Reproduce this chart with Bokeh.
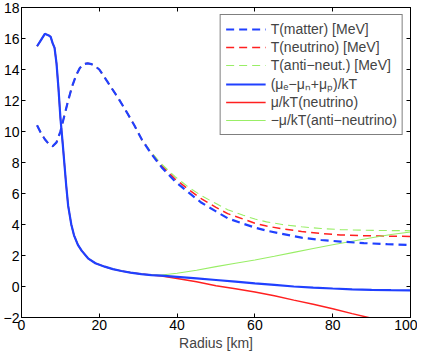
from bokeh.plotting import figure
from bokeh.models import LinearAxis, Legend, LegendItem, FixedTicker, Range1d
from bokeh.embed import file_html
from bokeh.resources import INLINE

# ---- data ----
r_tm = [4, 5, 6, 7, 7.5, 8, 9, 10, 11, 12, 13, 14, 15, 16, 17, 18, 19, 20, 22, 25, 27, 29, 31, 33.4, 36, 39.4, 43, 46.3, 50, 53, 57, 60, 63, 67, 72, 77, 82, 88, 94, 100]
t_matter = [10.4, 9.9, 9.5, 9.2, 9.1, 9.05, 9.3, 10.0, 11.0, 12.0, 12.9, 13.6, 14.1, 14.35, 14.4, 14.35, 14.2, 14.0, 13.25, 12.1, 11.27, 10.4, 9.45, 8.55, 7.7, 6.8, 6.05, 5.4, 4.85, 4.4, 4.05, 3.8, 3.6, 3.4, 3.15, 3.0, 2.9, 2.8, 2.73, 2.68]
t_nu = [10.4, 9.9, 9.5, 9.2, 9.1, 9.05, 9.3, 10.0, 11.0, 12.0, 12.9, 13.6, 14.1, 14.35, 14.4, 14.35, 14.2, 14.0, 13.25, 12.1, 11.27, 10.4, 9.45, 8.6, 7.8, 6.95, 6.25, 5.65, 5.1, 4.7, 4.35, 4.08, 3.9, 3.72, 3.55, 3.42, 3.33, 3.28, 3.25, 3.23]
t_anu = [10.4, 9.9, 9.5, 9.2, 9.1, 9.05, 9.3, 10.0, 11.0, 12.0, 12.9, 13.6, 14.1, 14.35, 14.4, 14.35, 14.2, 14.0, 13.25, 12.1, 11.27, 10.4, 9.45, 8.65, 7.9, 7.1, 6.4, 5.85, 5.35, 4.95, 4.6, 4.35, 4.17, 4.0, 3.85, 3.74, 3.67, 3.63, 3.61, 3.6]

r_mu = [4, 5, 6, 7, 7.5, 8, 8.5, 9, 9.5, 10, 10.6, 11, 11.5, 12, 12.8, 13.5, 14.5, 15.5, 17.1, 19, 21.4, 23.5, 25.7, 28, 30.8, 33.4, 36, 40, 45, 50, 55, 60, 65, 70, 75, 80, 85, 90, 95, 100]
mu_matter = [15.5, 15.9, 16.3, 16.2, 16.1, 15.7, 15.4, 14.4, 12.8, 10.9, 9.2, 8.0, 6.5, 5.2, 4.0, 3.3, 2.69, 2.3, 1.82, 1.5, 1.28, 1.12, 1.0, 0.9, 0.8, 0.74, 0.7, 0.62, 0.52, 0.42, 0.32, 0.2, 0.1, 0.0, -0.07, -0.13, -0.18, -0.22, -0.24, -0.25]
mu_nu = [15.5, 15.9, 16.3, 16.2, 16.1, 15.7, 15.4, 14.4, 12.8, 10.9, 9.2, 8.0, 6.5, 5.2, 4.0, 3.3, 2.69, 2.3, 1.82, 1.5, 1.28, 1.12, 1.0, 0.9, 0.8, 0.74, 0.68, 0.52, 0.3, 0.05, -0.15, -0.35, -0.6, -0.88, -1.15, -1.43, -1.75, -2.05, -2.35, -2.65]
mu_anu = [15.5, 15.9, 16.3, 16.2, 16.1, 15.7, 15.4, 14.4, 12.8, 10.9, 9.2, 8.0, 6.5, 5.2, 4.0, 3.3, 2.69, 2.3, 1.82, 1.5, 1.28, 1.12, 1.0, 0.9, 0.8, 0.74, 0.74, 0.85, 1.05, 1.28, 1.5, 1.71, 1.95, 2.2, 2.45, 2.69, 2.92, 3.14, 3.35, 3.52]

labels = ["T(matter) [MeV]", "T(neutrino) [MeV]", "T(anti\u2212neut.) [MeV]",
          "(\u03bc\u2091\u2212\u03bc\u2099+\u03bc\u209a)/kT", "\u03bc/kT(neutrino)", "\u2212\u03bc/kT(anti\u2212neutrino)"]
x_ticks = [0, 20, 40, 60, 80, 100]
y_ticks = [-2, 0, 2, 4, 6, 8, 10, 12, 14, 16, 18]

BLUE = "#2040ff"
RED = "#ff2020"
GREEN = "#99ee66"
FONT = "Liberation Sans"
FS = "14px"

p = figure(width=417, height=353, output_backend="svg", toolbar_location=None,
           x_range=Range1d(0, 100), y_range=Range1d(-2, 18),
           min_border_left=0, min_border_right=7, min_border_top=7, min_border_bottom=0)
p.grid.visible = False
p.outline_line_color = "black"
p.outline_line_width = 1
p.background_fill_color = "white"
p.border_fill_color = "white"

r1 = p.line(r_tm, t_matter, line_color=BLUE, line_width=2.2, line_dash="8 5")
r2 = p.line(r_tm, t_nu, line_color=RED, line_width=1.5, line_dash="8 5")
r3 = p.line(r_tm, t_anu, line_color=GREEN, line_width=1.1, line_dash="8 5")
r5 = p.line(r_mu, mu_nu, line_color=RED, line_width=1.5)
r6 = p.line(r_mu, mu_anu, line_color=GREEN, line_width=1.1)
r4 = p.line(r_mu, mu_matter, line_color=BLUE, line_width=2.2)
p.renderers.remove(r1)
p.renderers.append(r1)

for ax in p.xaxis + p.yaxis:
    ax.major_tick_in = 4
    ax.major_tick_out = 0
    ax.minor_tick_line_color = None
    ax.major_label_text_font = FONT
    ax.major_label_text_font_size = FS
    ax.major_label_text_color = "black"
    ax.axis_line_color = "black"
    ax.major_label_standoff = 2
p.xaxis.ticker = FixedTicker(ticks=x_ticks)
p.yaxis.ticker = FixedTicker(ticks=y_ticks)
p.xaxis.axis_label = "Radius [km]"
p.xaxis.axis_label_text_font = FONT
p.xaxis.axis_label_text_font_style = "normal"
p.xaxis.axis_label_text_font_size = FS
p.xaxis.axis_label_standoff = 2

for loc, tk in (("above", x_ticks), ("right", y_ticks)):
    ax = LinearAxis(ticker=FixedTicker(ticks=tk), major_tick_in=4, major_tick_out=0,
                    minor_tick_line_color=None, major_label_text_color=None,
                    major_label_text_font_size="1px",
                    major_label_standoff=0, axis_line_color="black")
    p.add_layout(ax, loc)

legend = Legend(items=[LegendItem(label=labels[i], renderers=[rr]) for i, rr in
                       enumerate([r1, r2, r3, r4, r5, r6])],
                location="top_right", margin=7, padding=5, spacing=0,
                glyph_width=40, glyph_height=18, label_height=18,
                label_text_font=FONT, label_text_font_size=FS,
                label_standoff=5, border_line_color="black", border_line_width=1,
                background_fill_alpha=1.0)
p.add_layout(legend)

open("out.html", "w").write(file_html(p, INLINE))
